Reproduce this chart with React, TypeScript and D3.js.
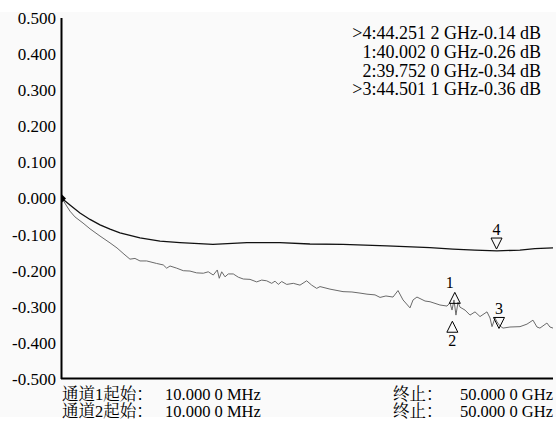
import React from 'react';
import * as d3 from 'd3';

// trace 1 (upper, black) - frequency in GHz, level in dB
const freq1 = [0.01, 0.82, 1.84, 2.86, 3.88, 4.9, 5.91, 6.93, 7.95, 9.99, 12.02, 15.38, 18.84, 22.2, 25.25, 28.61, 33.09, 37.47, 39.81, 42.05, 44.29, 46.63, 48.16, 50.0];
const level1 = [0, -0.018, -0.04, -0.058, -0.073, -0.085, -0.095, -0.102, -0.109, -0.118, -0.122, -0.127, -0.122, -0.122, -0.126, -0.127, -0.131, -0.136, -0.14, -0.143, -0.145, -0.143, -0.139, -0.137];

// trace 2 (lower, grey, noisy)
const freq2 = [0.01, 0.42, 0.82, 1.33, 2.15, 2.86, 3.88, 4.9, 5.61, 6.32, 6.93, 7.44, 7.95, 8.63, 9.65, 10.32, 10.67, 11.01, 11.69, 12.36, 13.04, 13.72, 14.4, 14.9, 15.41, 15.82, 16.02, 16.27, 16.61, 16.94, 17.45, 17.96, 18.47, 19.15, 19.83, 20.34, 20.85, 21.36, 21.7, 22.03, 22.38, 22.89, 23.56, 24.24, 24.92, 25.43, 25.94, 26.28, 27.29, 28.62, 29.53, 30.35, 31.06, 31.88, 32.39, 32.99, 33.71, 34.22, 34.73, 35.44, 35.75, 36.15, 36.97, 37.48, 38.49, 39.21, 39.51, 39.72, 39.92, 40.12, 40.33, 40.53, 41.04, 41.55, 42.06, 42.57, 43.28, 43.59, 43.79, 44.1, 44.3, 44.6, 44.91, 45.62, 46.64, 47.35, 47.96, 48.37, 48.67, 49.38, 49.69, 50.0];
const level2 = [0, -0.018, -0.035, -0.051, -0.068, -0.084, -0.104, -0.123, -0.137, -0.154, -0.168, -0.166, -0.173, -0.173, -0.18, -0.184, -0.193, -0.187, -0.193, -0.2, -0.201, -0.206, -0.207, -0.203, -0.212, -0.198, -0.221, -0.203, -0.217, -0.209, -0.209, -0.218, -0.223, -0.224, -0.231, -0.226, -0.228, -0.235, -0.229, -0.238, -0.23, -0.238, -0.235, -0.24, -0.228, -0.24, -0.249, -0.244, -0.251, -0.258, -0.259, -0.262, -0.265, -0.267, -0.274, -0.27, -0.273, -0.255, -0.281, -0.303, -0.281, -0.273, -0.284, -0.286, -0.295, -0.298, -0.289, -0.309, -0.281, -0.323, -0.287, -0.301, -0.309, -0.323, -0.314, -0.327, -0.314, -0.331, -0.355, -0.331, -0.342, -0.353, -0.359, -0.356, -0.355, -0.348, -0.337, -0.356, -0.359, -0.345, -0.356, -0.359];

// markers
const markerIds = ['4', '1', '2', '3'];
const markerFreq = [44.2512, 40.002, 39.752, 44.5011];
const markerLevel = [-0.14, -0.26, -0.34, -0.36];
const markerUp = [false, true, true, false];
const markerLabelBelow = [false, false, true, false];
const markerReadout = ['>4:44.251 2 GHz-0.14 dB', '1:40.002 0 GHz-0.26 dB', '2:39.752 0 GHz-0.34 dB', '>3:44.501 1 GHz-0.36 dB'];

const yTicks = [0.5, 0.4, 0.3, 0.2, 0.1, 0, -0.1, -0.2, -0.3, -0.4, -0.5];

const footLeft = ['通道1起始：', '通道2起始：'];
const footStart = ['10.000 0 MHz', '10.000 0 MHz'];
const footStopLabel = ['终止：', '终止：'];
const footStop = ['50.000 0 GHz', '50.000 0 GHz'];

const W = 556;
const H = 422;
const serif = "'Liberation Serif', 'Noto Serif CJK SC', serif";

// two stacked lines in one text element
function Stack({ x, lines, anchor }: { x: number; lines: string[]; anchor?: string }) {
  return (
    <text x={x} y={394} dy="0.35em" textAnchor={anchor || 'start'} fontSize={16.5} fill="#000">
      {lines.map((s, i) => (
        <tspan key={i} x={x} dy={i === 0 ? '0.35em' : 17}>{s}</tspan>
      ))}
    </text>
  );
}

export default function App() {
  const x = d3.scaleLinear().domain([0.01, 50]).range([62, 553]);
  const y = d3.scaleLinear().domain([-0.5, 0.5]).range([379, 18]);

  const line = d3.line<[number, number]>()
    .x(d => x(d[0]))
    .y(d => y(d[1]));

  const d1 = line(freq1.map((f, i) => [f, level1[i]] as [number, number])) || '';
  const d2 = line(freq2.map((f, i) => [f, level2[i]] as [number, number])) || '';

  return (
    <svg width={W} height={H} style={{ position: 'absolute', left: 0, top: 0 }} fontFamily={serif}>
      <rect x={0} y={0} width={W} height={H} fill="#ffffff" />
      <rect x={0} y={12} width={W} height={405} fill="#fafafa" />

      {/* y tick labels */}
      {yTicks.map(t => (
        <text key={t} x={56} y={y(t)} dy="0.35em" textAnchor="end" fontSize={17} fill="#000">
          {t.toFixed(3)}
        </text>
      ))}

      {/* traces */}
      <path d={d2} fill="none" stroke="#6a6a6a" strokeWidth={1} />
      <path d={d1} fill="none" stroke="#111" strokeWidth={1.3} />

      {/* axes */}
      <line x1={61.5} x2={61.5} y1={y(0.5)} y2={y(-0.5)} stroke="#000" strokeWidth={2} />
      <line x1={61} x2={553} y1={y(-0.5) - 0.5} y2={y(-0.5) - 0.5} stroke="#000" strokeWidth={2} />
      {/* reference level arrow */}
      <path d={`M${x(0.01)},${y(0) - 4}L${x(0.01) + 4},${y(0)}L${x(0.01)},${y(0) + 4}Z`} fill="#000" />

      {/* markers */}
      {markerIds.map((id, i) => {
        const mx = x(markerFreq[i]);
        const my = y(markerLevel[i]);
        const s = 5.5;
        const h = 11;
        const tri = markerUp[i]
          ? `M${mx},${my}L${mx + s},${my + h}L${mx - s},${my + h}Z`
          : `M${mx},${my}L${mx + s},${my - h}L${mx - s},${my - h}Z`;
        let ly = markerUp[i] ? my - 4 : my - h - 3;
        if (markerLabelBelow[i]) ly = my + h + 14;
        const lx = markerUp[i] && !markerLabelBelow[i] ? mx - 5 : mx;
        return (
          <g key={id}>
            <path d={tri} fill="none" stroke="#000" strokeWidth={1} />
            <text x={lx} y={ly} textAnchor="middle" fontSize={16} fill="#000">{id}</text>
          </g>
        );
      })}

      {/* marker readout */}
      {markerReadout.map((s, i) => (
        <text key={s} x={541} y={33 + i * 18.7} dy="0.35em" textAnchor="end" fontSize={18} fill="#000">
          {s}
        </text>
      ))}

      {/* footer */}
      <Stack x={62} lines={footLeft} />
      <Stack x={165} lines={footStart} />
      <Stack x={393} lines={footStopLabel} />
      <Stack x={553} lines={footStop} anchor="end" />
    </svg>
  );
}
